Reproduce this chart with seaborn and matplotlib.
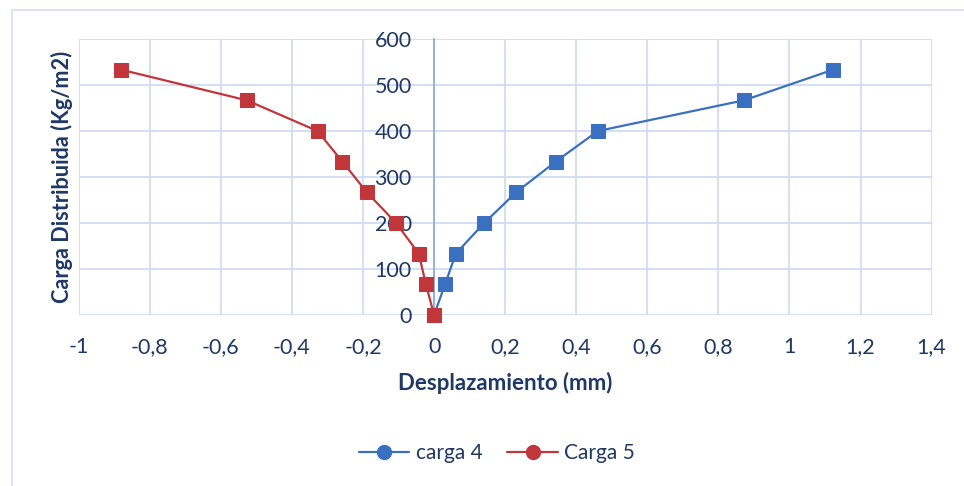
import matplotlib
matplotlib.use("Agg")
import matplotlib.pyplot as plt
import seaborn as sns
import pandas as pd
from matplotlib.lines import Line2D

# ---- data ----
carga_values = [0, 66.7, 133.3, 200, 266.7, 333.3, 400, 466.7, 533.3]
carga4_disp = [0, 0.031, 0.061, 0.141, 0.231, 0.342, 0.461, 0.872, 1.123]
carga5_disp = [0, -0.023, -0.043, -0.107, -0.189, -0.258, -0.328, -0.527, -0.881]
series_names = ["carga 4", "Carga 5"]
x_ticks = [-1, -0.8, -0.6, -0.4, -0.2, 0, 0.2, 0.4, 0.6, 0.8, 1, 1.2, 1.4]
y_ticks = [0, 100, 200, 300, 400, 500, 600]
x_label = "Desplazamiento (mm)"
y_label = "Carga Distribuida (Kg/m2)"

BLUE = "#3A70C0"
RED = "#C0363A"
TXT = "#1F3864"
GRID = "#D0DCF0"
AXIS = "#8DAEE0"

sns.set_theme(style="white")
plt.rcParams["font.family"] = ["Lato", "DejaVu Sans"]

fig = plt.figure(figsize=(9.64, 4.86), dpi=100)
ax = fig.add_axes([78.7 / 964, 1 - 315 / 486, (931.6 - 78.7) / 964, (315 - 39) / 486])

df4 = pd.DataFrame({"x": carga4_disp, "y": carga_values})
df5 = pd.DataFrame({"x": carga5_disp, "y": carga_values})

for df, col in [(df4, BLUE), (df5, RED)]:
    sns.lineplot(data=df, x="x", y="y", sort=False, ax=ax, color=col,
                 linewidth=1.6, marker="s", markersize=10,
                 markeredgecolor=col, markerfacecolor=col, clip_on=False,
                 zorder=5)

ax.set_xlim(-1, 1.4)
ax.set_ylim(0, 600)
ax.set_xticks(x_ticks)
ax.set_yticks(y_ticks)
ax.set_xticklabels([("%g" % v).replace(".", ",") for v in x_ticks])
ax.set_yticklabels([str(v) for v in y_ticks])
ax.grid(True, color=GRID, linewidth=1.3)
ax.set_axisbelow(True)

for s in ["top", "right", "bottom"]:
    ax.spines[s].set_visible(False)
ax.spines["left"].set_position(("data", 0))
ax.spines["left"].set_color(AXIS)
ax.spines["left"].set_linewidth(1.3)
ax.spines["left"].set_zorder(1)

ax.tick_params(axis="y", length=0, pad=16, labelsize=15.5, labelcolor=TXT)
ax.tick_params(axis="x", length=0, pad=16, labelsize=15.5, labelcolor=TXT)

ax.set_xlabel("")
ax.set_ylabel("")
fig.text(505 / 964, 1 - 383 / 486, x_label, ha="center", va="center",
         fontsize=16, fontweight="bold", color=TXT)
fig.text(62 / 964, 1 - 177 / 486, y_label, ha="center", va="center",
         rotation=90, fontsize=15.6, fontweight="bold", color=TXT)

handles = [Line2D([], [], color=BLUE, marker="o", markersize=10, linewidth=1.6),
           Line2D([], [], color=RED, marker="o", markersize=10, linewidth=1.6)]
leg = fig.legend(handles, series_names, loc="center", bbox_to_anchor=(497 / 964, 1 - 453 / 486),
                 ncol=2, frameon=False, fontsize=15, handlelength=2.4,
                 handletextpad=0.3, columnspacing=1.2)
for t in leg.get_texts():
    t.set_color(TXT)

# outer chart-area border
fig.add_artist(Line2D([12 / 964, 12 / 964], [0, 1 - 10 / 486], color="#D9E2F3",
                      linewidth=1.3, transform=fig.transFigure))
fig.add_artist(Line2D([12 / 964, 1], [1 - 10 / 486, 1 - 10 / 486], color="#D9E2F3",
                      linewidth=1.3, transform=fig.transFigure))

fig.savefig("out.png", dpi=100, facecolor="white")
